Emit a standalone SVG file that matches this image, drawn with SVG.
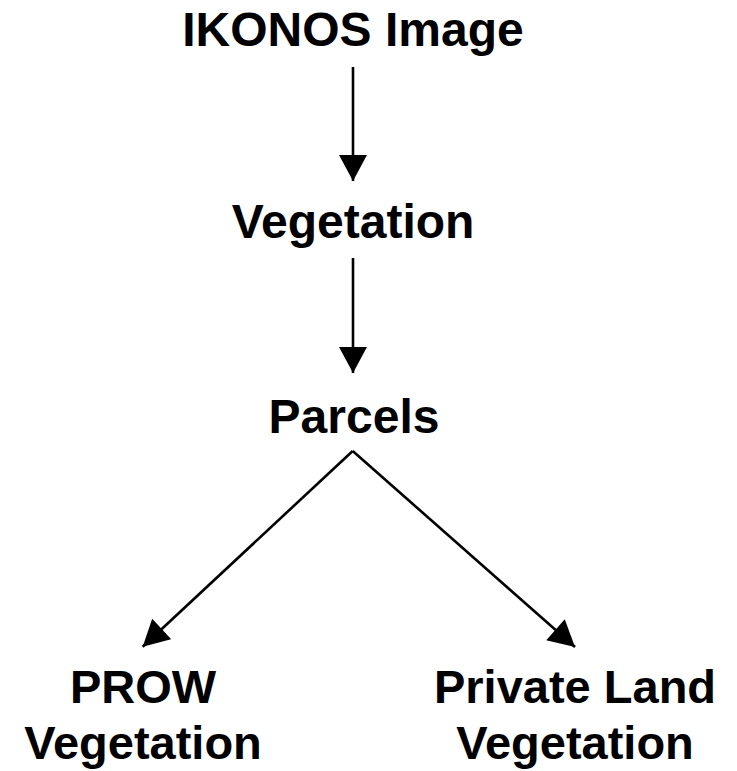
<svg xmlns="http://www.w3.org/2000/svg" width="737" height="771" viewBox="0 0 737 771">
<style>
.t{font-family:"Liberation Sans",Arial,sans-serif;font-weight:bold;font-size:48px;fill:#000;text-anchor:middle}
.b{font-size:47px}
.c{stroke:#000;stroke-width:2.6;fill:none}
</style>
<defs>
<marker id="ah" markerUnits="userSpaceOnUse" markerWidth="27" markerHeight="28" viewBox="0 0 26 28" refX="26" refY="14" orient="auto">
<path d="M0,0 L26,14 L0,28 z" fill="#000"/>
</marker>
</defs>
<rect width="737" height="771" fill="#fff"/>
<g id="connectors">
<line class="c" x1="353" y1="67" x2="353" y2="181" marker-end="url(#ah)"/>
<line class="c" x1="353" y1="258" x2="353" y2="373" marker-end="url(#ah)"/>
<line class="c" x1="352.7" y1="451" x2="142.7" y2="646.7" marker-end="url(#ah)"/>
<line class="c" x1="352.7" y1="451" x2="575" y2="647" marker-end="url(#ah)"/>
</g>
<g id="node-ikonos"><text class="t" x="353" y="46">IKONOS Image</text></g>
<g id="node-vegetation"><text class="t" x="353" y="238">Vegetation</text></g>
<g id="node-parcels"><text class="t" x="354" y="433">Parcels</text></g>
<g id="node-prow"><text class="t b" x="143" y="703">PROW</text><text class="t b" x="143" y="759">Vegetation</text></g>
<g id="node-private"><text class="t b" x="575" y="703">Private Land</text><text class="t b" x="575" y="759">Vegetation</text></g>
</svg>
